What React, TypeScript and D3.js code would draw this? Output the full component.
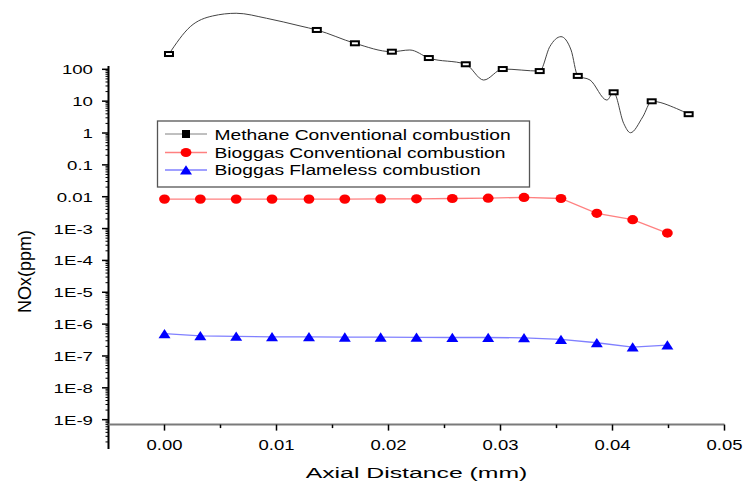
import React from 'react';
import * as d3 from 'd3';

// ---------- data ----------
const yTickValues = [100, 10, 1, 0.1, 0.01, 1e-3, 1e-4, 1e-5, 1e-6, 1e-7, 1e-8, 1e-9];
const yTickLabels = ['100', '10', '1', '0.1', '0.01', '1E-3', '1E-4', '1E-5', '1E-6', '1E-7', '1E-8', '1E-9'];
const xTickValues = [0, 0.01, 0.02, 0.03, 0.04, 0.05];
const xTickLabels = ['0.00', '0.01', '0.02', '0.03', '0.04', '0.05'];
const xMinorTickValues = [0.005, 0.015, 0.025, 0.035, 0.045];

const seriesNames = [
  'Methane Conventional combustion',
  'Bioggas Conventional combustion',
  'Bioggas Flameless combustion',
];

// Methane conventional combustion (markers)
const methaneX = [0.0004, 0.0136, 0.017, 0.0203, 0.0236, 0.0269, 0.0302, 0.0335, 0.0369, 0.0401, 0.0435, 0.0468];
const methaneY = [302, 1718, 656, 357, 226, 144, 102, 88, 62, 19, 9.9, 3.9];

// Methane connecting line (passes through the markers)
const methaneLineX = [0.0004, 0.0023, 0.0043, 0.0064, 0.0091, 0.0121, 0.0136, 0.017, 0.0203, 0.0219, 0.0236, 0.0269, 0.0285, 0.0302, 0.0335, 0.0344, 0.0354, 0.0363, 0.0369, 0.038, 0.0395, 0.0401, 0.041, 0.0416, 0.0427, 0.0435, 0.0457, 0.0468];
const methaneLineY = [302, 2180, 4730, 5750, 4010, 2300, 1718, 656, 357, 404, 226, 144, 46, 102, 88, 513, 1059, 404, 62, 46, 10.8, 19, 2.0, 1.02, 3.2, 9.9, 5.9, 3.9];

// Biogas series
const biogasX = [0, 0.0032, 0.0064, 0.0096, 0.0129, 0.0161, 0.0193, 0.0225, 0.0257, 0.0289, 0.0321, 0.0354, 0.0386, 0.0418, 0.0449];
const biogasConventional = [0.0084, 0.0084, 0.0084, 0.0084, 0.0084, 0.0084, 0.0085, 0.0086, 0.0088, 0.009, 0.0095, 0.0088, 0.003, 0.0019, 0.00072];
const biogasFlameless = [5.0e-7, 4.3e-7, 4.15e-7, 4.0e-7, 4.0e-7, 3.9e-7, 3.9e-7, 3.85e-7, 3.8e-7, 3.8e-7, 3.7e-7, 3.3e-7, 2.6e-7, 1.9e-7, 2.2e-7];

const FONT = "'Liberation Sans', Arial, sans-serif";

function Square({ cx, cy }: { cx: number; cy: number }) {
  return <rect x={cx - 4} y={cy - 2} width={8} height={4} fill="#fff" stroke="#000" strokeWidth={2} />;
}
function Dot({ cx, cy }: { cx: number; cy: number }) {
  return <ellipse cx={cx} cy={cy} rx={5.4} ry={4.6} fill="#ff0000" />;
}
function Tri({ cx, cy }: { cx: number; cy: number }) {
  return <path d={`M${cx},${cy - 4.8}L${cx + 6},${cy + 4.5}L${cx - 6},${cy + 4.5}Z`} fill="#0000ff" />;
}

export default function App() {
  const W = 743, H = 483;
  const x = d3.scaleLinear().domain([-0.005, 0.05]).range([108.5, 724.5]);
  const y = d3.scaleLog().domain([1.2e-10, 127]).range([449, 66]);
  const xAxisAt = 7e-10;
  const xAxisY = y(xAxisAt);
  const axisX = x(-0.005);

  // minor log ticks
  const yMinor: number[] = [];
  for (let e = -10; e <= 2; e++) {
    for (let k = 2; k <= 9; k++) {
      const v = k * Math.pow(10, e);
      if (v >= 1.2e-10 && v <= 127) yMinor.push(v);
    }
  }

  const line = d3.line<[number, number]>().x(d => x(d[0])).y(d => y(d[1]));
  const curve = d3.line<[number, number]>().x(d => x(d[0])).y(d => y(d[1])).curve(d3.curveMonotoneX);

  const methaneLine = methaneLineX.map((v, i) => [v, methaneLineY[i]] as [number, number]);
  const convPts = biogasX.map((v, i) => [v, biogasConventional[i]] as [number, number]);
  const flamePts = biogasX.map((v, i) => [v, biogasFlameless[i]] as [number, number]);

  const legend = { x: 157.5, y: 121, w: 372, h: 66 };
  const rowY = [134, 152.5, 170];
  const textY = [140, 157.7, 175];

  return (
    <svg width={W} height={H} style={{ position: 'absolute', left: 0, top: 0, background: '#fff' }} fontFamily={FONT}>
      <rect x={0} y={0} width={W} height={H} fill="#fff" />

      {/* Y axis */}
      <line x1={axisX} x2={axisX} y1={y(127)} y2={y(1.2e-10)} stroke="#000" strokeWidth={2} />
      {yMinor.map((v, i) => (
        <line key={'ym' + i} x1={axisX - 3} x2={axisX} y1={y(v)} y2={y(v)} stroke="#000" strokeWidth={1} />
      ))}
      {yTickValues.map((v, i) => (
        <g key={'yt' + i}>
          <line x1={axisX - 6.5} x2={axisX} y1={y(v)} y2={y(v)} stroke="#000" strokeWidth={1.5} />
          <text
            transform={`translate(93,${y(v) + 5})scale(1.48,1)`}
            textAnchor="end"
            fontSize={12.6}
            fill="#000"
          >
            {yTickLabels[i]}
          </text>
        </g>
      ))}

      {/* X axis */}
      <line x1={axisX} x2={x(0.05)} y1={xAxisY} y2={xAxisY} stroke="#7a7a7a" strokeWidth={2} />
      {xTickValues.map((v, i) => (
        <g key={'xt' + i}>
          <line x1={x(v)} x2={x(v)} y1={xAxisY} y2={xAxisY + 6} stroke="#000" strokeWidth={1.5} />
          <text
            transform={`translate(${x(v)},450)scale(1.32,1)`}
            textAnchor="middle"
            fontSize={14}
            fill="#000"
          >
            {xTickLabels[i]}
          </text>
        </g>
      ))}
      {xMinorTickValues.map((v, i) => (
        <line key={'xm' + i} x1={x(v)} x2={x(v)} y1={xAxisY} y2={xAxisY + 3.5} stroke="#000" strokeWidth={1.5} />
      ))}

      {/* Axis titles */}
      <text transform={`translate(${(axisX + x(0.05)) / 2},478)scale(1.6,1)`} textAnchor="middle" fontSize={15.5} fill="#000">
        Axial Distance (mm)
      </text>
      <text transform="translate(31,271.5)rotate(-90)" textAnchor="middle" fontSize={18} fill="#000">
        NOx(ppm)
      </text>

      {/* Series lines */}
      <path d={curve(methaneLine) || ''} fill="none" stroke="#444" strokeWidth={1} />
      <path d={line(convPts) || ''} fill="none" stroke="#ff8080" strokeWidth={1.3} />
      <path d={line(flamePts) || ''} fill="none" stroke="#8080ff" strokeWidth={1.3} />

      {/* Markers */}
      {biogasX.map((v, i) => <Dot key={'c' + i} cx={x(v)} cy={y(biogasConventional[i])} />)}
      {biogasX.map((v, i) => <Tri key={'t' + i} cx={x(v)} cy={y(biogasFlameless[i])} />)}
      {methaneX.map((v, i) => <Square key={'s' + i} cx={x(v)} cy={y(methaneY[i])} />)}

      {/* Legend */}
      <rect x={legend.x} y={legend.y} width={legend.w} height={legend.h} fill="#fff" stroke="#555" strokeWidth={1.3} />
      <line x1={165} x2={207} y1={rowY[0]} y2={rowY[0]} stroke="#808080" strokeWidth={1} />
      <rect x={182} y={rowY[0] - 4} width={8} height={8} fill="#000" />
      <line x1={165} x2={207} y1={rowY[1]} y2={rowY[1]} stroke="#ff8080" strokeWidth={1.3} />
      <Dot cx={186} cy={rowY[1]} />
      <line x1={165} x2={207} y1={rowY[2]} y2={rowY[2]} stroke="#8080ff" strokeWidth={1.3} />
      <Tri cx={186} cy={rowY[2]} />
      {seriesNames.map((s, i) => (
        <text key={'lg' + i} transform={`translate(214.5,${textY[i]})scale(1.25,1)`} fontSize={15.4} fill="#000">
          {s}
        </text>
      ))}
    </svg>
  );
}
